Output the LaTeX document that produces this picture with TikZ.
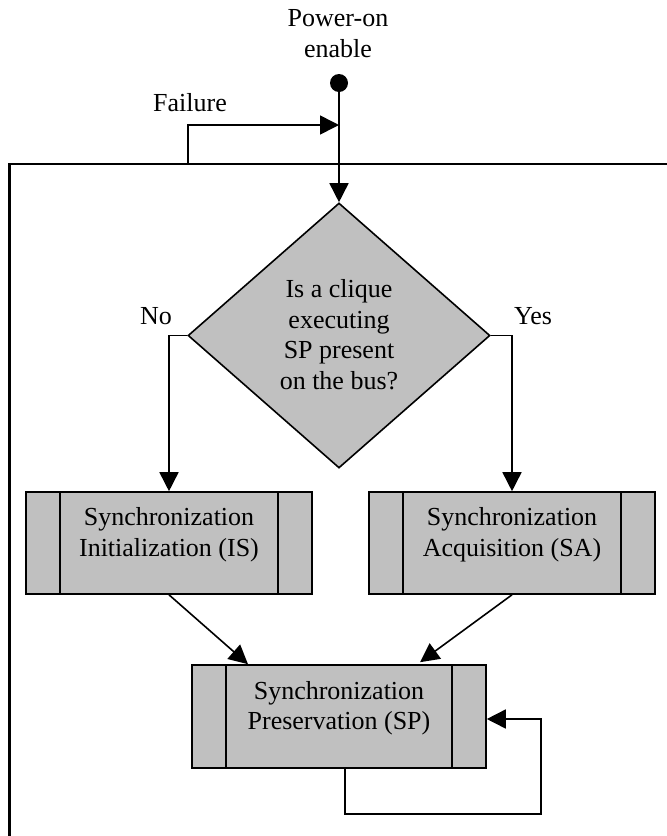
\documentclass[tikz,border=0pt]{standalone}
\usepackage{fontspec}
\setmainfont{Liberation Serif}
\usetikzlibrary{arrows.meta,shapes.geometric}
\definecolor{boxgray}{HTML}{C0C0C0}
\begin{document}
\begin{tikzpicture}[x=1pt,y=-1pt,
  txt/.style={font=\fontsize{26}{30.5}\selectfont, align=center, inner sep=0pt},
  procbox/.style={draw, fill=boxgray, line width=1.6pt, inner sep=0pt},
  decbox/.style={draw, fill=boxgray, line width=1.6pt, diamond, inner sep=0pt,
                 minimum width=302pt, minimum height=265pt},
  arr/.style={-{Triangle[length=19pt,width=19pt]}, line width=1.6pt},
  conn/.style={line width=1.6pt},
  framel/.style={line width=2.6pt}]
\useasboundingbox (0,0) rectangle (667,836);

% start
\node[txt] (pwr) at (338,33.4) {Power-on\\enable};
\node[circle, fill=black, inner sep=0pt, minimum size=18pt] (dot) at (339,83) {};

% outer frame
\coordinate (fTR) at (670,164);
\coordinate (fTL) at (9.5,164);
\coordinate (fBL) at (9.5,840);
\draw[framel] (fTR) -- (fTL) -- (fBL);

% failure path
\coordinate (fail0) at (188,164);
\coordinate (failJ) at (339,125);
\node[txt] (faillbl) at (190,103) {Failure};
\draw[arr] (fail0) |- (failJ);

% decision
\node[decbox] (dia) at (339,335.5) {};
\node[txt] (diatxt) at (339,334.6) {Is a clique\\executing\\SP present\\on the bus?};
\draw[arr] (dot) -- (dia.north);

% process boxes
\node[procbox, minimum width=286pt, minimum height=102pt] (is) at (169,543) {};
\node[procbox, minimum width=286pt, minimum height=102pt] (sa) at (512,543) {};
\node[procbox, minimum width=294pt, minimum height=103pt] (sp) at (339,716.5) {};
\foreach \b in {is,sa,sp}{
  \draw[conn] ([xshift=35pt]\b.north west) -- ([xshift=35pt]\b.south west);
  \draw[conn] ([xshift=-35pt]\b.north east) -- ([xshift=-35pt]\b.south east);
}
\node[txt] (istxt) at (169,534.5) {Synchronization\\Initialization (IS)};
\node[txt] (satxt) at (512,534.5) {Synchronization\\Acquisition (SA)};
\node[txt] (sptxt) at (339,708.2) {Synchronization\\Preservation (SP)};

% branches
\node[txt] (nolbl) at (156,316) {No};
\node[txt] (yeslbl) at (533,316) {Yes};
\draw[arr] (dia.west) -| (is.north);
\draw[arr] (dia.east) -| (sa.north);

% to SP
\draw[arr] (is.south) -- ([xshift=-91pt]sp.north);
\draw[arr] (sa.south) -- ([xshift=81pt,yshift=2pt]sp.north);

% self loop
\coordinate (lpc) at (541,814);
\draw[arr] ([xshift=6pt]sp.south) |- (lpc) |- ([yshift=-2.5pt]sp.east);
\end{tikzpicture}
\end{document}
